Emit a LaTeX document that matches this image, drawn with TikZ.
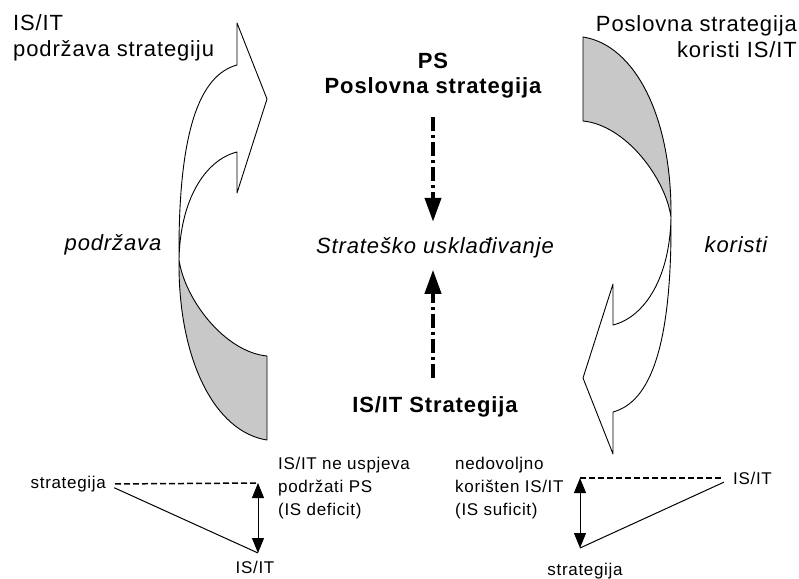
\documentclass[tikz,border=0pt]{standalone}
\usepackage{fontspec}
\setmainfont{Liberation Sans}[LetterSpace=4]
\usetikzlibrary{arrows.meta}
\definecolor{ribbongray}{HTML}{C8C8C8}

\tikzset{
  ribbon/.style={draw=black,line width=0.9pt,line join=round},
  bigtxt/.style={font=\fontsize{22}{26}\selectfont,inner sep=0pt},
  bigbold/.style={font=\fontsize{22}{25}\selectfont\bfseries,inner sep=0pt},
  bigital/.style={font=\fontsize{22}{26}\selectfont\itshape,inner sep=0pt},
  smalltxt/.style={font=\fontsize{17}{23}\selectfont,inner sep=0pt},
  alignarrow/.style={line width=4pt,dash pattern=on 14pt off 4pt on 3pt off 4pt,
    -{Triangle[length=24pt,width=16pt]}},
  gaparrow/.style={line width=1pt,
    {Triangle[length=15pt,width=12pt]}-{Triangle[length=15pt,width=12pt]}},
  gapdash/.style={line width=1.5pt,dash pattern=on 6pt off 3pt},
  twistarrow/.pic={
    % white side with the head
    \filldraw[ribbon,fill=white] (179,260) .. controls (178,130) and (200,75) .. (237,65)
      -- (237,23) -- (267,99) -- (237,193) -- (237,152)
      .. controls (205,160) and (180,200) .. (179,260) -- cycle;
    % gray side
    \filldraw[ribbon,fill=ribbongray] (179,260) .. controls (178,360) and (215,432) .. (267,440)
      -- (267,356) .. controls (225,352) and (185,300) .. (179,260) -- cycle;
  }
}

\begin{document}
\begin{tikzpicture}[x=1pt,y=-1pt,line cap=butt]
  \useasboundingbox (0,0) rectangle (799,578);

  % the two twisted arrows
  \pic at (0,0) {twistarrow};
  \pic[rotate=180] at (850,477) {twistarrow};

  % corner labels
  \node[bigtxt,align=left,anchor=north west] (suppTop) at (13,14) {IS/IT\\podržava strategiju};
  \node[bigtxt,align=right,anchor=north east] (usesTop) at (797,15) {Poslovna strategija\\koristi IS/IT};
  \node[bigital] (supp) at (113,245) {podržava};
  \node[bigital] (uses) at (736,245) {koristi};

  % centre
  \node[bigbold,align=center,anchor=north] (ps) at (433,53) {PS\\Poslovna strategija};
  \node[bigital,anchor=base] (fit) at (435,253) {Strateško usklađivanje};
  \node[bigbold,anchor=base] (isit) at (435,412) {IS/IT Strategija};

  \draw[alignarrow,shorten <=19pt,shorten >=15pt] (ps.south) -- (ps.south |- fit.north);
  \draw[alignarrow,shorten <=18pt,shorten >=12pt] (isit.north -| ps.south) -- (ps.south |- fit.south);

  % IS deficit
  \node[smalltxt,anchor=east] (stratL) at (106,484) {strategija};
  \node[smalltxt,anchor=base] (isitL) at (255,573) {IS/IT};
  \node[smalltxt,align=left,anchor=north west] (deficit) at (278,457)
    {IS/IT ne uspjeva\\podržati PS\\(IS deficit)};
  \coordinate (cornerL) at (258,483);
  \coordinate (tipL) at (258,553);
  \draw[gapdash,shorten <=9pt] (stratL.east) -- (cornerL);
  \draw[line width=1pt,shorten <=9pt] (stratL.east) -- (tipL);
  \draw[gaparrow] (cornerL) -- (tipL);

  % IS suficit
  \node[smalltxt,anchor=west] (isitR) at (733,478) {IS/IT};
  \node[smalltxt,anchor=base] (stratR) at (585,575) {strategija};
  \node[smalltxt,align=left,anchor=north west] (surplus) at (455,457)
    {nedovoljno\\korišten IS/IT\\(IS suficit)};
  \coordinate (cornerR) at (580,478);
  \coordinate (tipR) at (580,548);
  \draw[gapdash,shorten >=10pt] (cornerR) -- (isitR.west);
  \draw[line width=1pt,shorten >=10pt] (tipR) -- (isitR.west);
  \draw[gaparrow] (cornerR) -- (tipR);
\end{tikzpicture}
\end{document}
